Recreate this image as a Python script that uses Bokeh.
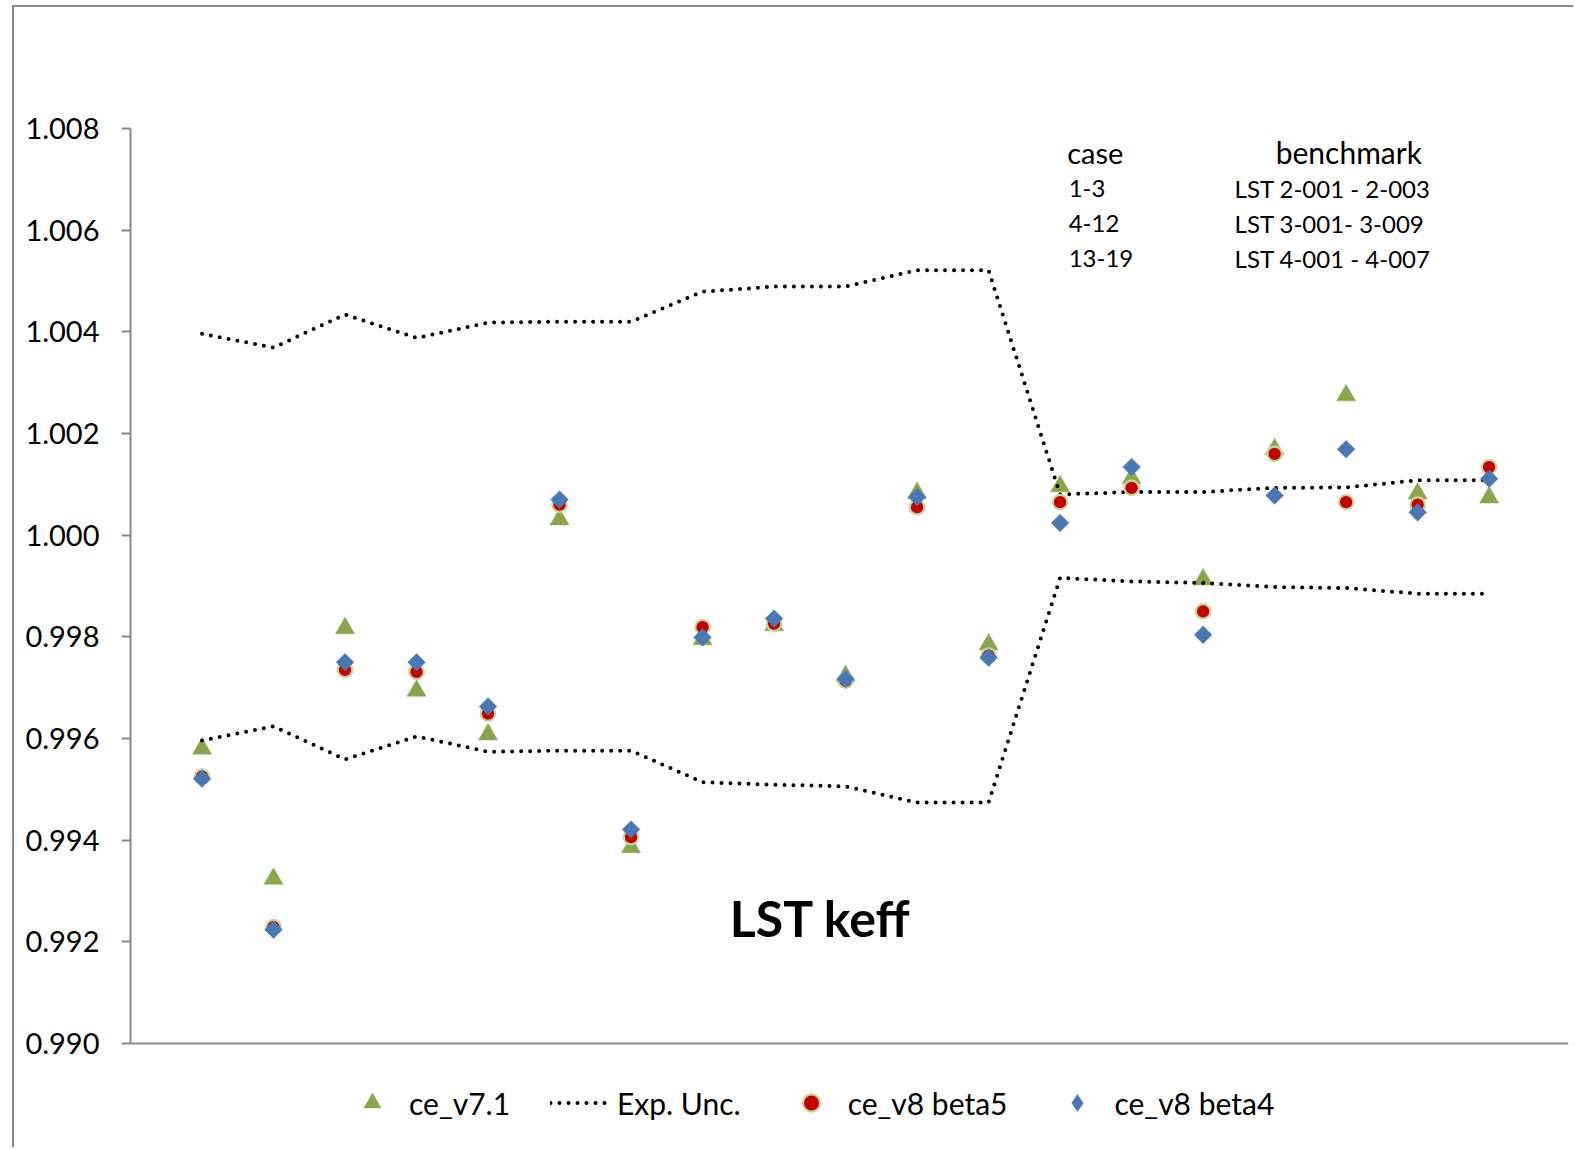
import math

from bokeh.plotting import figure
from bokeh.models import (Range1d, FixedTicker, PrintfTickFormatter, Legend,
                          LegendItem, Label, Span)
from bokeh.embed import file_html
from bokeh.resources import INLINE

# ---- data -------------------------------------------------------------
cases = list(range(1, 20))

ce_v71 = [0.99580, 0.99324, 0.99817, 0.99694, 0.99608, 1.00031, 0.99386,
          0.99795, 0.99823, 0.99723, 1.00083, 0.99785, 1.00096, 1.00112,
          0.99913, 1.00169, 1.00275, 1.00082, 1.00074]

ce_v8_beta5 = [0.99525, 0.99229, 0.99735, 0.99731, 0.99649, 1.00060, 0.99406,
               0.99819, 0.99826, 0.99714, 1.00055, 0.99763, 1.00065, 1.00093,
               0.99850, 1.00160, 1.00065, 1.00060, 1.00134]

ce_v8_beta4 = [0.99521, 0.99224, 0.99750, 0.99750, 0.99663, 1.00070, 0.99421,
               0.99799, 0.99836, 0.99717, 1.00075, 0.99759, 1.00024, 1.00134,
               0.99804, 1.00078, 1.00169, 1.00045, 1.00111]

exp_upper = [1.00396, 1.00369, 1.00434, 1.00388, 1.00418, 1.00420, 1.00420,
             1.00479, 1.00489, 1.00489, 1.00521, 1.00521, 1.00080, 1.00085,
             1.00085, 1.00093, 1.00094, 1.00108, 1.00108]

exp_lower = [0.99596, 0.99624, 0.99559, 0.99604, 0.99574, 0.99576, 0.99576,
             0.99514, 0.99509, 0.99506, 0.99474, 0.99474, 0.99916, 0.99909,
             0.99906, 0.99898, 0.99896, 0.99885, 0.99885]

y_ticks = [0.990, 0.992, 0.994, 0.996, 0.998, 1.000, 1.002, 1.004, 1.006, 1.008]

case_groups = ["1-3", "4-12", "13-19"]
benchmarks = ["LST 2-001 - 2-003", "LST 3-001- 3-009", "LST 4-001 - 4-007"]

# ---- styling ----------------------------------------------------------
FONT = "Lato"
GREEN = "#8aa64d"
RED = "#c80000"
RING = "#c3d69b"
BLUE = "#4a78b4"
AXIS_GREY = "#898989"

Y_MIN, Y_MAX = y_ticks[0], y_ticks[-1]

# the frame runs down to the bottom edge so the legend can sit inside it;
# the value axis itself is bounded to 0.990 .. 1.008
p = figure(width=1561, height=1142, output_backend="svg", toolbar_location=None,
           x_range=Range1d(0, 20.11), y_range=Range1d(0.987915, Y_MAX),
           min_border_left=116, min_border_top=121, min_border_right=7,
           min_border_bottom=0, background_fill_color="white",
           border_fill_color="white", outline_line_color=None)
p.margin = (5, 0, 0, 12)
p.styles = {"border-left": f"2px solid {AXIS_GREY}",
            "border-top": f"2px solid {AXIS_GREY}"}

p.grid.visible = False
p.xaxis.visible = False

yax = p.yaxis[0]
yax.bounds = (Y_MIN, Y_MAX)
yax.ticker = FixedTicker(ticks=y_ticks)
yax.formatter = PrintfTickFormatter(format="%.3f")
yax.axis_line_color = AXIS_GREY
yax.axis_line_width = 2
yax.major_tick_line_color = AXIS_GREY
yax.major_tick_line_width = 2
yax.major_tick_out = 9
yax.major_tick_in = 0
yax.minor_tick_out = 0
yax.minor_tick_in = 0
yax.major_label_standoff = 22
yax.major_label_text_font = FONT
yax.major_label_text_font_size = "29px"
yax.major_label_text_color = "black"

# horizontal category axis line at the bottom of the value range
p.add_layout(Span(location=Y_MIN, dimension="width",
                  line_color=AXIS_GREY, line_width=2))

# ---- series -----------------------------------------------------------
tri_style = dict(marker="triangle", fill_color=GREEN, line_color=GREEN,
                 line_width=0.5)
circ_style = dict(marker="circle", fill_color=RED, line_color=RING,
                  line_width=2.2)
dots = dict(line_color="black", line_width=4, line_dash="0 9",
            line_cap="round", line_join="round")

r_v71 = p.scatter(cases, ce_v71, size=19, **tri_style)

r_up = p.line(cases, exp_upper, **dots)
p.line(cases, exp_lower, **dots)

r_b5 = p.scatter(cases, ce_v8_beta5, size=14.5, **circ_style)
p.scatter(cases, ce_v8_beta4, marker="square", angle=math.pi / 4,
          size=12.5, fill_color=BLUE, line_color=BLUE, line_width=0.5)

# legend key for beta4: the legend draws markers unrotated, so the key
# comes from a hidden renderer using Bokeh's diamond marker
key_b4 = p.scatter(cases, ce_v8_beta4, marker="diamond", fill_color=BLUE,
                   line_color=BLUE, line_width=0.5, visible=False)

legend = Legend(items=[
    LegendItem(label="ce_v7.1", renderers=[r_v71]),
    LegendItem(label="Exp. Unc.", renderers=[r_up]),
    LegendItem(label="ce_v8 beta5", renderers=[r_b5]),
    LegendItem(label="ce_v8 beta4", renderers=[key_b4]),
], orientation="horizontal", location=(212, 25), glyph_width=60,
    glyph_height=43, label_standoff=7, spacing=40, padding=0, margin=0,
    border_line_color=None, background_fill_alpha=0,
    label_text_font=FONT, label_text_font_size="30px",
    label_text_color="black", click_policy="none")
p.add_layout(legend, "center")

# ---- annotations ------------------------------------------------------
p.add_layout(Label(x=9.65, y=0.99246, text="LST keff", text_font=FONT,
                   text_font_style="bold", text_font_size="50px",
                   text_align="center", text_baseline="middle",
                   text_color="black"))

p.add_layout(Label(x=13.1, y=1.00753, text="case", text_font=FONT,
                   text_font_size="29px", text_baseline="middle",
                   text_color="black"))
p.add_layout(Label(x=18.06, y=1.00753, text="benchmark", text_font=FONT,
                   text_font_size="30px", text_baseline="middle",
                   text_align="right", text_color="black"))

row_y = [1.00682, 1.00613, 1.00544]
for grp, bench, yy in zip(case_groups, benchmarks, row_y):
    p.add_layout(Label(x=13.12, y=yy, text=grp, text_font=FONT,
                       text_font_size="24px", text_baseline="middle",
                       text_color="black"))
    p.add_layout(Label(x=15.44, y=yy, text=bench, text_font=FONT,
                       text_font_size="24px", text_baseline="middle",
                       text_color="black"))

open("out.html", "w").write(file_html(p, INLINE))
